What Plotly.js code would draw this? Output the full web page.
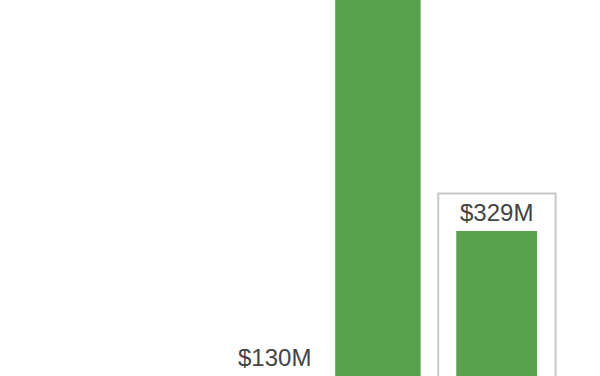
<!DOCTYPE html>
<html>
<head>
<meta charset="utf-8">
<script src="https://cdn.plot.ly/plotly-3.0.1.min.js"></script>
<style>html,body{margin:0;padding:0;background:#fff;}#chart{width:600px;height:376px;}</style>
</head>
<body>
<div id="chart"></div>
<script>
const categories = [0, 1, 2];
const values = [130, 800, 329];
const labels = ['$130M', '', '$329M'];
const barWidths = [0.70, 0.72, 0.68];

const green = '#59a14f';

const trace = {
  type: 'bar',
  x: categories,
  y: values,
  width: barWidths,
  marker: {color: green},
  hoverinfo: 'none'
};

const annotations = [];
categories.forEach((c, i) => {
  if (!labels[i]) return;
  annotations.push({
    x: c, y: values[i], xref: 'x', yref: 'y',
    text: labels[i], showarrow: false,
    yanchor: 'bottom', yshift: 3,
    xshift: i === 0 ? 15 : 0,
    font: {family: 'Liberation Sans, Arial, sans-serif', size: 24, color: '#444444'}
  });
});

const layout = {
  width: 600, height: 376,
  margin: {l: 0, r: 0, t: 0, b: 0},
  paper_bgcolor: '#ffffff', plot_bgcolor: '#ffffff',
  showlegend: false,
  xaxis: {range: [-2.184, 2.871], visible: false, fixedrange: true},
  yaxis: {range: [130, 646], visible: false, fixedrange: true},
  annotations: annotations,
  shapes: [{
    type: 'rect', xref: 'x', yref: 'y',
    x0: 1.508, x1: 2.497, y0: 0, y1: 380.5,
    line: {color: '#c8c8c8', width: 2},
    fillcolor: 'rgba(0,0,0,0)', layer: 'above'
  }]
};

Plotly.newPlot('chart', [trace], layout, {staticPlot: true, displayModeBar: false});
</script>
</body>
</html>
